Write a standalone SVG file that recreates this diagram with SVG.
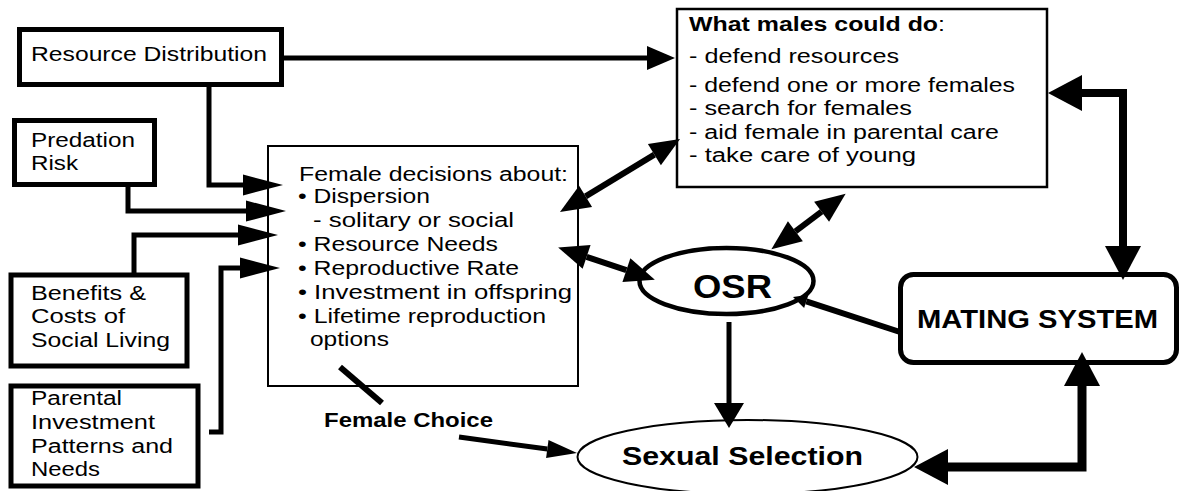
<svg xmlns="http://www.w3.org/2000/svg" width="1179" height="491" viewBox="0 0 1179 491">
<style>
  .box { fill: #fff; stroke: #000; }
  .t { font-family: "Liberation Sans", Arial, Helvetica, sans-serif; font-size: 20px; fill: #000; }
  .b { font-weight: bold; }
  .c { fill: none; stroke: #000; stroke-linejoin: miter; }
</style>
<defs>
  <marker id="mA" markerUnits="userSpaceOnUse" markerWidth="40" markerHeight="21" refX="0" refY="10.5" orient="auto-start-reverse" overflow="visible"><path d="M0,0 L40,10.5 L0,21 Z"/></marker>
  <marker id="mB" markerUnits="userSpaceOnUse" markerWidth="28" markerHeight="24" refX="0" refY="12" orient="auto-start-reverse" overflow="visible"><path d="M0,0 L28,12 L0,24 Z"/></marker>
  <marker id="mC" markerUnits="userSpaceOnUse" markerWidth="30" markerHeight="25" refX="0" refY="12.5" orient="auto-start-reverse" overflow="visible"><path d="M0,0 L30,12.5 L0,25 Z"/></marker>
  <marker id="mD" markerUnits="userSpaceOnUse" markerWidth="34" markerHeight="36" refX="0" refY="18" orient="auto-start-reverse" overflow="visible"><path d="M0,0 L34,18 L0,36 Z"/></marker>
  <marker id="mE" markerUnits="userSpaceOnUse" markerWidth="25" markerHeight="30" refX="0" refY="15" orient="auto-start-reverse" overflow="visible"><path d="M0,0 L25,15 L0,30 Z"/></marker>
  <marker id="mF" markerUnits="userSpaceOnUse" markerWidth="14" markerHeight="14" refX="0" refY="7" orient="auto-start-reverse" overflow="visible"><path d="M0,0 L14,7 L0,14 Z"/></marker>
  <marker id="mG" markerUnits="userSpaceOnUse" markerWidth="30" markerHeight="18" refX="0" refY="9" orient="auto-start-reverse" overflow="visible"><path d="M0,0 L30,9 L0,18 Z"/></marker>
</defs>

<g id="resource-distribution">
  <rect class="box" x="19.5" y="29.5" width="262" height="55" stroke-width="5"/>
  <text class="t" x="31" y="61" textLength="236" lengthAdjust="spacingAndGlyphs">Resource Distribution</text>
</g>

<g id="predation-risk">
  <rect class="box" x="14.5" y="120.5" width="140" height="64" stroke-width="5"/>
  <text class="t" x="31" y="147" textLength="104" lengthAdjust="spacingAndGlyphs">Predation</text>
  <text class="t" x="31" y="170" textLength="47" lengthAdjust="spacingAndGlyphs">Risk</text>
</g>

<g id="benefits-costs">
  <rect class="box" x="11" y="275" width="176" height="91" stroke-width="5"/>
  <text class="t" x="31" y="300" textLength="115" lengthAdjust="spacingAndGlyphs">Benefits &amp;</text>
  <text class="t" x="31" y="323" textLength="94" lengthAdjust="spacingAndGlyphs">Costs of</text>
  <text class="t" x="31" y="347" textLength="139" lengthAdjust="spacingAndGlyphs">Social Living</text>
</g>

<g id="parental-investment">
  <rect class="box" x="11" y="386" width="187" height="100" stroke-width="5"/>
  <text class="t" x="31" y="405" textLength="91" lengthAdjust="spacingAndGlyphs">Parental</text>
  <text class="t" x="31" y="429" textLength="124" lengthAdjust="spacingAndGlyphs">Investment</text>
  <text class="t" x="31" y="453" textLength="142" lengthAdjust="spacingAndGlyphs">Patterns and</text>
  <text class="t" x="31" y="476" textLength="69" lengthAdjust="spacingAndGlyphs">Needs</text>
</g>

<g id="female-decisions">
  <rect class="box" x="268" y="146" width="310" height="240" stroke-width="2"/>
  <text class="t" x="299" y="181" textLength="269" lengthAdjust="spacingAndGlyphs">Female decisions about:</text>
  <text class="t" x="298" y="203" textLength="132" lengthAdjust="spacingAndGlyphs">• Dispersion</text>
  <text class="t" x="313" y="227" textLength="201" lengthAdjust="spacingAndGlyphs">- solitary or social</text>
  <text class="t" x="298" y="251" textLength="200" lengthAdjust="spacingAndGlyphs">• Resource Needs</text>
  <text class="t" x="298" y="275" textLength="221" lengthAdjust="spacingAndGlyphs">• Reproductive Rate</text>
  <text class="t" x="298" y="299" textLength="274" lengthAdjust="spacingAndGlyphs">• Investment in offspring</text>
  <text class="t" x="298" y="323" textLength="248" lengthAdjust="spacingAndGlyphs">• Lifetime reproduction</text>
  <text class="t" x="310" y="346" textLength="79" lengthAdjust="spacingAndGlyphs">options</text>
</g>

<g id="female-choice">
  <text class="t b" x="324" y="427" textLength="169" lengthAdjust="spacingAndGlyphs">Female Choice</text>
</g>

<g id="males">
  <rect class="box" x="677" y="9" width="370" height="178" stroke-width="2.5"/>
  <text class="t" x="689" y="31" textLength="256" lengthAdjust="spacingAndGlyphs"><tspan class="b">What males could do</tspan>:</text>
  <text class="t" x="689" y="63" textLength="210" lengthAdjust="spacingAndGlyphs">- defend resources</text>
  <text class="t" x="689" y="92" textLength="326" lengthAdjust="spacingAndGlyphs">- defend one or more females</text>
  <text class="t" x="689" y="115" textLength="223" lengthAdjust="spacingAndGlyphs">- search for females</text>
  <text class="t" x="689" y="139" textLength="310" lengthAdjust="spacingAndGlyphs">- aid female in parental care</text>
  <text class="t" x="689" y="162" textLength="227" lengthAdjust="spacingAndGlyphs">- take care of young</text>
</g>

<g id="osr">
  <ellipse class="box" cx="726.5" cy="281" rx="87" ry="33" stroke-width="4.5"/>
  <text class="t b" x="693" y="298" style="font-size:33px" textLength="79" lengthAdjust="spacingAndGlyphs">OSR</text>
</g>

<g id="mating-system">
  <rect class="box" x="900.5" y="274.5" width="276" height="88" rx="13" stroke-width="5"/>
  <text class="t b" x="917" y="328" style="font-size:25px" textLength="241" lengthAdjust="spacingAndGlyphs">MATING SYSTEM</text>
</g>

<g id="sexual-selection">
  <ellipse class="box" cx="747.5" cy="457" rx="170" ry="37" stroke-width="2"/>
  <text class="t b" x="622" y="465" style="font-size:25px" textLength="241" lengthAdjust="spacingAndGlyphs">Sexual Selection</text>
</g>

<g id="connectors">
  <path class="c" stroke-width="5" d="M284,58 H647" marker-end="url(#mB)"/>
  <path class="c" stroke-width="5" d="M209,87 V185 H243" marker-end="url(#mA)"/>
  <path class="c" stroke-width="5" d="M128,187 V211 H246" marker-end="url(#mA)"/>
  <path class="c" stroke-width="5" d="M134,273 V235 H238" marker-end="url(#mA)"/>
  <path class="c" stroke-width="5" d="M209,432 H221 V268 H240" marker-end="url(#mA)"/>
  <path class="c" stroke-width="6" d="M585.6,196.4 L654.4,154.6" marker-start="url(#mC)" marker-end="url(#mC)"/>
  <path class="c" stroke-width="6" d="M586.6,256.9 L626.4,270.2" marker-start="url(#mC)" marker-end="url(#mC)"/>
  <path class="c" stroke-width="6" d="M795.4,231.3 L821.6,211.7" marker-start="url(#mC)" marker-end="url(#mC)"/>
  <path class="c" stroke-width="6" d="M900,332 L806.3,301.4" marker-end="url(#mF)"/>
  <path class="c" stroke-width="5" d="M729,322 V403" marker-end="url(#mE)"/>
  <path class="c" stroke-width="8" d="M1123,246 V93 H1082" marker-start="url(#mD)" marker-end="url(#mD)"/>
  <path class="c" stroke-width="9" d="M1082,386 V467 H948" marker-start="url(#mD)" marker-end="url(#mD)"/>
  <path class="c" stroke-width="6" d="M340,367 L382,403"/>
  <path class="c" stroke-width="5" d="M459,437 L547.3,449" marker-end="url(#mG)"/>
</g>
</svg>
